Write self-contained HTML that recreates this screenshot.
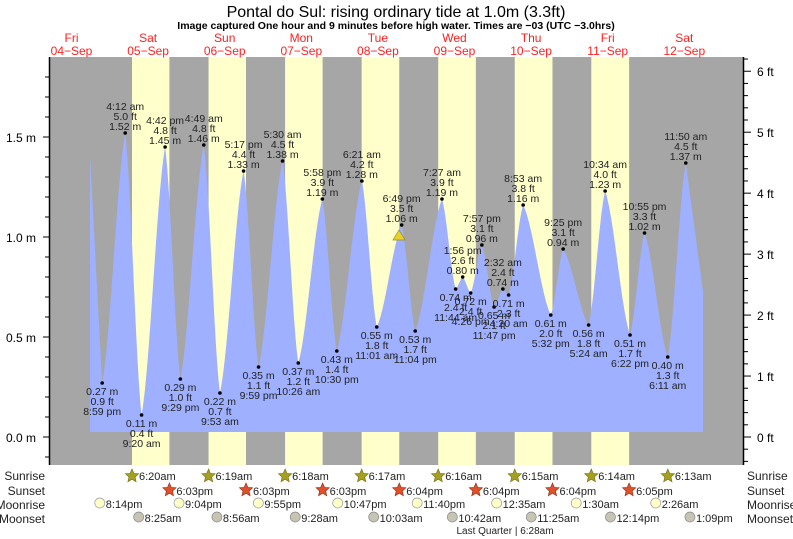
<!DOCTYPE html>
<html><head><meta charset="utf-8"><style>
html,body{margin:0;padding:0;background:#fff;}
svg{display:block;font-family:"Liberation Sans",sans-serif;}
</style></head><body>
<svg id="s" width="793" height="539" viewBox="0 0 793 539" xmlns="http://www.w3.org/2000/svg"></svg>
<script>
var s=document.getElementById('s'),out='';
var D=76.6,F0=35.2;
function X(d,h,m){return F0+(d+(h+m/60)/24)*D;}
function Y(v){return 437-200*v;}
function t(x,y,txt,a,sz,fill,w){out+='<text x="'+x+'" y="'+y+'" font-size="'+(sz||11)+'" fill="'+(fill||'#000')+'" text-anchor="'+(a||'middle')+'"'+(w?' font-weight="bold"':'')+'>'+txt+'</text>';}
out+='<rect x="50" y="57" width="693" height="408" fill="#a6a6a6"/>';
var sr=[[1,6,20],[2,6,19],[3,6,18],[4,6,17],[5,6,16],[6,6,15],[7,6,14],[8,6,13]];
var ss=[[1,18,3],[2,18,3],[3,18,3],[4,18,4],[5,18,4],[6,18,4],[7,18,5]];
for(var i=0;i<7;i++){var a=X.apply(null,sr[i]),b=X.apply(null,ss[i]);out+='<rect x="'+a+'" y="57" width="'+(b-a)+'" height="408" fill="#ffffcc"/>';}
var E=[[0,20,59,.27],[1,4,12,1.52],[1,9,20,.11],[1,16,42,1.45],[1,21,29,.29],[2,4,49,1.46],[2,9,53,.22],[2,17,17,1.33],[2,21,59,.35],[3,5,30,1.38],[3,10,26,.37],[3,17,58,1.19],[3,22,30,.43],[4,6,21,1.28],[4,11,1,.55],[4,18,49,1.06],[4,23,4,.53],[5,7,27,1.19],[5,11,44,.74],[5,13,56,.80],[5,16,26,.72],[5,19,57,.96],[5,23,47,.65],[6,2,32,.74],[6,4,20,.71],[6,8,53,1.16],[6,17,32,.61],[6,21,25,.94],[7,5,24,.56],[7,10,34,1.23],[7,18,22,.51],[7,22,55,1.02],[8,6,11,.40],[8,11,50,1.37]];
var P=E.map(function(e){return [X(e[0],e[1],e[2]),e[3]];});
P.unshift([89.5,1.45]);
P.push([703.5,0.71]);
var path='M90,432';
for(var x=90;x<=703;x+=0.5){
 for(var k=0;k<P.length-1;k++){if(x>=P[k][0]&&x<=P[k+1][0])break;}
 var p=P[k],q=P[k+1],f=(x-p[0])/(q[0]-p[0]);
 var g=0.5*f+0.5*(1-Math.cos(Math.PI*f))/2;
 if(k==0||k==P.length-2)g=f;
 var v=p[1]+(q[1]-p[1])*g;
 path+=' L'+x+','+Y(v).toFixed(1);
}
path+=' L703,432 Z';
out+='<path d="'+path+'" fill="#9eb0ff"/>';
function tm(h,m){var ap=h<12?'am':'pm';var hh=h%12;if(hh==0)hh=12;return hh+':'+(m<10?'0':'')+m+' '+ap;}
E.forEach(function(e,i){
 var x=X(e[0],e[1],e[2]),y=Y(e[3]);
 out+='<circle cx="'+x+'" cy="'+y+'" r="1.8" fill="#000"/>';
 var ft=(e[3]*3.28084).toFixed(1)+' ft',m=e[3].toFixed(2)+' m',ti=tm(e[1],e[2]);
 var hi=(i>0&&e[3]>E[i-1][3]);
 if(hi){t(x,y-23,ti,null,10.5,'#222');t(x,y-13,ft,null,10.5,'#222');t(x,y-3,m,null,10.5,'#222');}
 else{t(x,y+12,m,null,10.5,'#222');t(x,y+22,ft,null,10.5,'#222');t(x,y+32,ti,null,10.5,'#222');}
});
out+='<polygon points="393,240 405,240 399,230" fill="#e6d22a" stroke="#9a8c10" stroke-width="0.7"/>';
out+='<line x1="49.5" y1="57" x2="49.5" y2="465" stroke="#000" stroke-width="1.5"/>';
out+='<line x1="743.5" y1="57" x2="743.5" y2="465" stroke="#000" stroke-width="1.5"/>';
for(var v=-0.1;v<=2.01;v+=0.1){var y=Y(v);if(y<57||y>465)continue;var maj=Math.abs(v*2-Math.round(v*2))<0.01;out+='<line x1="'+(maj?43:45)+'" y1="'+y+'" x2="49" y2="'+y+'" stroke="#000"/>';if(maj&&v>-0.05&&v<1.6)t(36,y+5,v.toFixed(1)+' m','end',12);}
for(var f=-0.4;f<=6.41;f+=0.2){var y=Y(f/3.28084);if(y<57||y>465)continue;var maj=Math.abs(f-Math.round(f))<0.01;out+='<line x1="744" y1="'+y+'" x2="'+(maj?751:748)+'" y2="'+y+'" stroke="#000"/>';if(maj&&f>-0.1)t(757,y+5,Math.round(f)+' ft','start',12);}
t(396,17,'Pontal do Sul: rising  ordinary tide at 1.0m (3.3ft)',null,16);
t(396,29,'Image captured One hour and 9 minutes before high water. Times are −03 (UTC −3.0hrs)',null,10.5,'#000',1);
var dn=['Fri','Sat','Sun','Mon','Tue','Wed','Thu','Fri','Sat'],dd=['04','05','06','07','08','09','10','11','12'];
for(var i=0;i<9;i++){var x=X(i,12,0)-2;t(x,42,dn[i],null,12,'#ff2020');t(x,55,dd[i]+'−Sep',null,12,'#ff2020');}
var rows=[['Sunrise',480],['Sunset',495],['Moonrise',509],['Moonset',523]];
rows.forEach(function(r){t(45,r[1],r[0],'end',12,'#222');t(747,r[1],r[0],'start',12,'#222');});
function star(x,y,c,st){var p=[];for(var j=0;j<10;j++){var a=-Math.PI/2+j*Math.PI/5,rr=j%2?3.2:7;p.push((x+rr*Math.cos(a)).toFixed(1)+','+(y+rr*Math.sin(a)).toFixed(1));}out+='<polygon points="'+p.join(' ')+'" fill="'+c+'" stroke="'+st+'" stroke-width="0.6"/>';}
sr.forEach(function(e){var x=X.apply(null,e);star(x,476,'#a6a020','#6f6a10');t(x+7,480,e[1]+':'+e[2]+'am','start',11,'#222');});
ss.forEach(function(e){var x=X.apply(null,e);star(x,490,'#e0502a','#8a2a10');t(x+7,495,(e[1]-12)+':0'+e[2]+'pm','start',11,'#222');});
var mr=[[0,20,14],[1,21,4],[2,21,55],[3,22,47],[4,23,40],[6,0,35],[7,1,30],[8,2,26]];
mr.forEach(function(e){var x=X.apply(null,e);out+='<circle cx="'+x+'" cy="503" r="5" fill="#ffffc8" stroke="#999" stroke-width="0.7"/>';t(x+6,508,tm(e[1],e[2]).replace(' ',''),'start',11,'#222');});
var ms=[[1,8,25],[2,8,56],[3,9,28],[4,10,3],[5,10,42],[6,11,25],[7,12,14],[8,13,9]];
ms.forEach(function(e){var x=X.apply(null,e);out+='<circle cx="'+x+'" cy="517" r="5" fill="#c8c4b4" stroke="#888" stroke-width="0.7"/>';t(x+6,522,tm(e[1],e[2]).replace(' ',''),'start',11,'#222');});
t(505,534,'Last Quarter | 6:28am',null,10,'#222');
s.innerHTML=out;
</script>
</body></html>
